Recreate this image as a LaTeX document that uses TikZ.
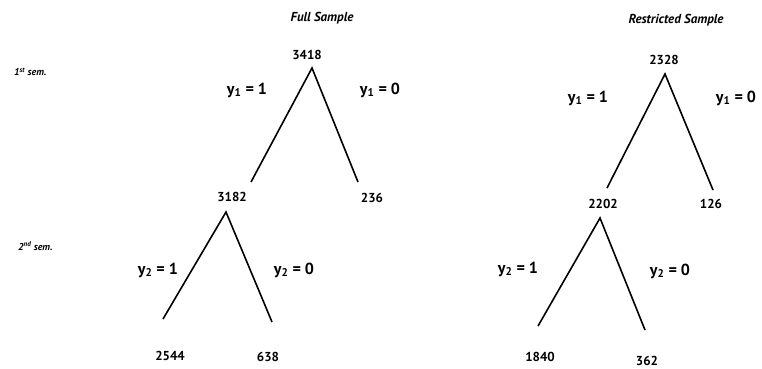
\documentclass[tikz,border=0pt]{standalone}
\usepackage{fontspec}
\setmainfont{PT Sans}
\usetikzlibrary{positioning}

\begin{document}
\begin{tikzpicture}[
  x=1pt, y=-1pt,
  num/.style = {font=\bfseries\fontsize{13}{13}\selectfont, inner sep=0pt},
  ttl/.style = {font=\bfseries\itshape\fontsize{13}{13}\selectfont, inner sep=0pt},
  row/.style = {font=\bfseries\itshape\fontsize{10}{10}\selectfont, inner sep=0pt, anchor=west},
  eq/.style  = {font=\bfseries\fontsize{16}{16}\selectfont, inner sep=0pt},
  br/.style  = {line width=1.6pt},
]
\useasboundingbox (0,0) rectangle (762,368);

% row labels
\node[row] (sem1) at (14,72)  {1\textsuperscript{st} sem.};
\node[row] (sem2) at (18,246) {2\textsuperscript{nd} sem.};

% full sample
\node[ttl] (fullT) at (322,18) {Full Sample};

\node[num] (f0)  at (307,55)  {3418};
\coordinate (fa1) at (312,68);
\coordinate (fl1) at (251,182);
\coordinate (fr1) at (358,182);
\draw[br] (fl1) -- (fa1) -- (fr1);
\node[eq] (fy1a) at (247,90) {y\textsubscript{1} = 1};
\node[eq] (fy1b) at (380,90) {y\textsubscript{1} = 0};

\node[num] (f1)  at (232,197) {3182};
\node[num] (f2)  at (372,198) {236};
\coordinate (fa2) at (226,212);
\coordinate (fl2) at (163,319);
\coordinate (fr2) at (272,322);
\draw[br] (fl2) -- (fa2) -- (fr2);
\node[eq] (fy2a) at (158,270) {y\textsubscript{2} = 1};
\node[eq] (fy2b) at (294,270) {y\textsubscript{2} = 0};

\node[num] (f11) at (170,356) {2544};
\node[num] (f12) at (268,357) {638};

% restricted sample
\node[ttl] (resT) at (676,20) {Restricted Sample};

\node[num] (r0)  at (664,60)  {2328};
\coordinate (ra1) at (665,74);
\coordinate (rl1) at (607,188);
\coordinate (rr1) at (713,190);
\draw[br] (rl1) -- (ra1) -- (rr1);
\node[eq] (ry1a) at (588,98) {y\textsubscript{1} = 1};
\node[eq] (ry1b) at (736,98) {y\textsubscript{1} = 0};

\node[num] (r1)  at (603,204) {2202};
\node[num] (r2)  at (711,204) {126};
\coordinate (ra2) at (600,218);
\coordinate (rl2) at (538,326);
\coordinate (rr2) at (645,330);
\draw[br] (rl2) -- (ra2) -- (rr2);
\node[eq] (ry2a) at (518,269) {y\textsubscript{2} = 1};
\node[eq] (ry2b) at (670,271) {y\textsubscript{2} = 0};

\node[num] (r11) at (540,357) {1840};
\node[num] (r12) at (647,361) {362};

\end{tikzpicture}
\end{document}
